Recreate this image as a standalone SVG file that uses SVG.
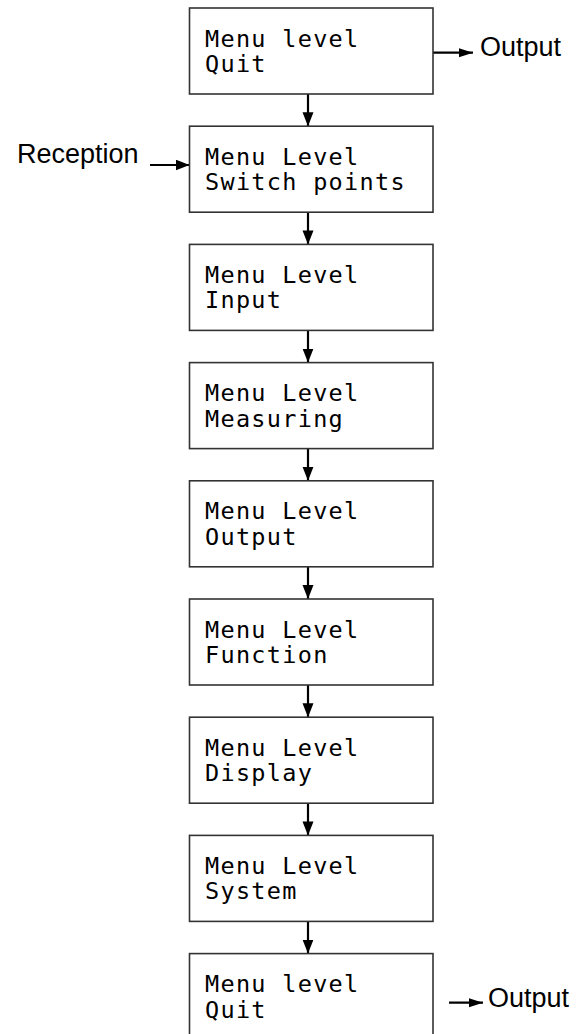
<svg xmlns="http://www.w3.org/2000/svg" width="582" height="1034" viewBox="0 0 582 1034">
<style>
.box{fill:#fff;stroke:#333;stroke-width:1.6}
.mono{font-family:"DejaVu Sans Mono",monospace;font-size:23.5px;letter-spacing:1.3px;fill:#000}
.lab{font-family:"Liberation Sans",Arial,sans-serif;font-size:27px;fill:#000}
.ln{stroke:#000;stroke-width:2.2;fill:none}
</style>
<defs>
<marker id="ahv" markerUnits="userSpaceOnUse" markerWidth="16" markerHeight="12" refX="14" refY="5.5" orient="auto">
<path d="M0,0 L14,5.5 L0,11 Z" fill="#000"/>
</marker>
<marker id="aho" markerUnits="userSpaceOnUse" markerWidth="15" markerHeight="10" refX="14" refY="4.5" orient="auto">
<path d="M0,0 L14,4.5 L0,9 Z" fill="#000"/>
</marker>
</defs>
<rect width="582" height="1034" fill="#fff"/>
<g id="connectors">
<line class="ln" x1="308" y1="94" x2="308" y2="126.2" marker-end="url(#ahv)"/>
<line class="ln" x1="308" y1="212.2" x2="308" y2="244.4" marker-end="url(#ahv)"/>
<line class="ln" x1="308" y1="330.4" x2="308" y2="362.6" marker-end="url(#ahv)"/>
<line class="ln" x1="308" y1="448.6" x2="308" y2="480.8" marker-end="url(#ahv)"/>
<line class="ln" x1="308" y1="566.8" x2="308" y2="599" marker-end="url(#ahv)"/>
<line class="ln" x1="308" y1="685" x2="308" y2="717.2" marker-end="url(#ahv)"/>
<line class="ln" x1="308" y1="803.2" x2="308" y2="835.4" marker-end="url(#ahv)"/>
<line class="ln" x1="308" y1="921.4" x2="308" y2="953.6" marker-end="url(#ahv)"/>
<line class="ln" x1="150" y1="165" x2="189.5" y2="165" marker-end="url(#ahv)"/>
<line class="ln" x1="433" y1="52.7" x2="473" y2="52.7" marker-end="url(#aho)"/>
<line class="ln" x1="449" y1="1002.7" x2="483" y2="1002.7" marker-end="url(#aho)"/>
</g>
<g id="n1"><rect class="box" x="189.5" y="8" width="243.5" height="86"/><text class="mono" x="205" y="46.5">Menu level</text><text class="mono" x="205" y="72">Quit</text></g>
<g id="n2"><rect class="box" x="189.5" y="126.2" width="243.5" height="86"/><text class="mono" x="205" y="164.7">Menu Level</text><text class="mono" x="205" y="190.2">Switch points</text></g>
<g id="n3"><rect class="box" x="189.5" y="244.4" width="243.5" height="86"/><text class="mono" x="205" y="282.9">Menu Level</text><text class="mono" x="205" y="308.4">Input</text></g>
<g id="n4"><rect class="box" x="189.5" y="362.6" width="243.5" height="86"/><text class="mono" x="205" y="401.1">Menu Level</text><text class="mono" x="205" y="426.6">Measuring</text></g>
<g id="n5"><rect class="box" x="189.5" y="480.8" width="243.5" height="86"/><text class="mono" x="205" y="519.3">Menu Level</text><text class="mono" x="205" y="544.8">Output</text></g>
<g id="n6"><rect class="box" x="189.5" y="599" width="243.5" height="86"/><text class="mono" x="205" y="637.5">Menu Level</text><text class="mono" x="205" y="663">Function</text></g>
<g id="n7"><rect class="box" x="189.5" y="717.2" width="243.5" height="86"/><text class="mono" x="205" y="755.7">Menu Level</text><text class="mono" x="205" y="781.2">Display</text></g>
<g id="n8"><rect class="box" x="189.5" y="835.4" width="243.5" height="86"/><text class="mono" x="205" y="873.9">Menu Level</text><text class="mono" x="205" y="899.4">System</text></g>
<g id="n9"><rect class="box" x="189.5" y="953.6" width="243.5" height="86"/><text class="mono" x="205" y="992.1">Menu level</text><text class="mono" x="205" y="1017.6">Quit</text></g>
<g id="labels">
<text class="lab" x="17" y="163">Reception</text>
<text class="lab" x="480" y="56">Output</text>
<text class="lab" x="488" y="1007">Output</text>
</g>
</svg>
